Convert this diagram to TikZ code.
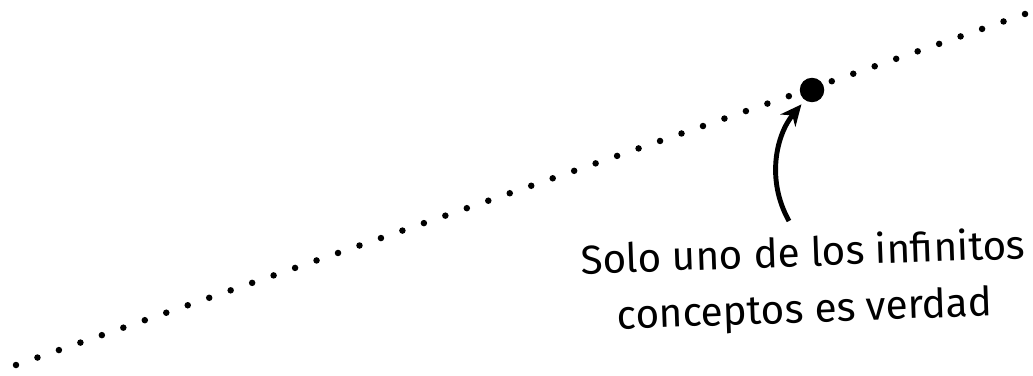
\documentclass[tikz,border=0pt]{standalone}
\usepackage{fontspec}
\setmainfont{Fira Sans}
\usepackage{tikz}
\usetikzlibrary{arrows.meta, calc}

\begin{document}
\begin{tikzpicture}[x=0.02cm, y=-0.02cm,
        punto/.style={circle, fill=black, inner sep=0pt, minimum size=0.13cm},
        elegido/.style={circle, fill=black, inner sep=0pt, minimum size=0.49cm},
        nota/.style={align=center, font=\fontsize{23}{32}\selectfont, rotate=2}]

        \useasboundingbox (0,0) rectangle (1033,375);

        % Recta de conceptos
        \coordinate (inicio) at (16,365);
        \coordinate (fin) at (1025,14);
        \foreach \i in {0,...,47}
            \node[punto] (p\i) at ($(inicio)!\i/47!(fin)$) {};

        % Concepto verdadero
        \node[elegido] (verdad) at (812,90) {};

        % Flecha y texto
        \coordinate (cola) at (789,221);
        \draw[line width=2.8pt, -{Stealth[length=12pt, width=11pt]}, shorten >=3pt]
            (cola) .. controls (766,180) and (776,135) .. (verdad.235);
        \node[nota] (texto) at (804,283) {Solo uno de los infinitos\\conceptos es verdad};
    \end{tikzpicture}
\end{document}
